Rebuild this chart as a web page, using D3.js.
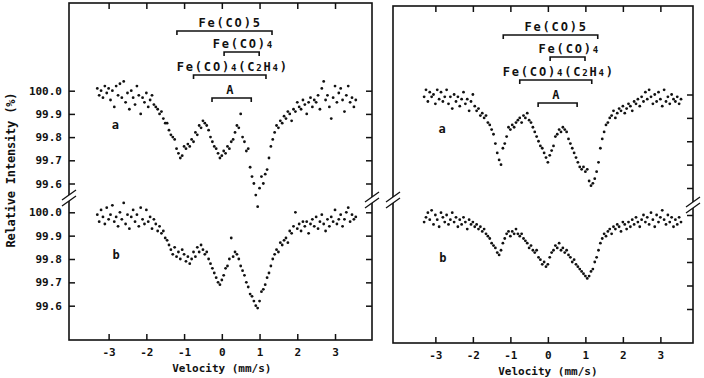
<!DOCTYPE html>
<html>
<head>
<meta charset="utf-8">
<title>Mossbauer spectra</title>
<script src="https://cdn.jsdelivr.net/npm/d3@7"></script>
<style>
  body { margin: 0; background: #fff; }
  text { font-family: "DejaVu Sans Mono", monospace; font-weight: bold; fill: #111; }
</style>
</head>
<body>
<div id="vis"></div>
<script>
// velocity channels (mm/s), shared by all four spectra
var velocity = [
  -3.30,-3.25,-3.20,-3.15,-3.10,-3.05,-3.00,-2.95,-2.90,-2.85,
  -2.80,-2.75,-2.70,-2.65,-2.60,-2.55,-2.50,-2.45,-2.40,-2.35,
  -2.30,-2.25,-2.20,-2.15,-2.10,-2.05,-2.00,-1.95,-1.90,-1.85,
  -1.80,-1.75,-1.70,-1.65,-1.60,-1.55,-1.50,-1.45,-1.40,-1.35,
  -1.30,-1.25,-1.20,-1.15,-1.10,-1.05,-1.00,-0.95,-0.90,-0.85,
  -0.80,-0.75,-0.70,-0.65,-0.60,-0.55,-0.50,-0.45,-0.40,-0.35,
  -0.30,-0.25,-0.20,-0.15,-0.10,-0.05,0.00,0.05,0.10,0.15,
  0.20,0.25,0.30,0.35,0.40,0.45,0.50,0.55,0.60,0.65,
  0.70,0.75,0.80,0.85,0.90,0.95,1.00,1.05,1.10,1.15,
  1.20,1.25,1.30,1.35,1.40,1.45,1.50,1.55,1.60,1.65,
  1.70,1.75,1.80,1.85,1.90,1.95,2.00,2.05,2.10,2.15,
  2.20,2.25,2.30,2.35,2.40,2.45,2.50,2.55,2.60,2.65,
  2.70,2.75,2.80,2.85,2.90,2.95,3.00,3.05,3.10,3.15,
  3.20,3.25,3.30,3.35,3.40,3.45,3.50,3.55
];

// relative intensity (%)
var leftA = [
  100.01,99.98,100.00,99.97,100.02,99.99,100.01,99.96,100.00,99.93,
  100.02,99.98,100.03,99.97,100.04,99.95,99.99,99.92,100.00,99.97,
  99.94,100.02,99.98,99.90,99.97,99.95,99.99,99.93,99.96,99.98,
  99.94,99.93,99.92,99.90,99.91,99.88,99.86,99.86,99.83,99.81,
  99.80,99.79,99.75,99.73,99.71,99.72,99.76,99.75,99.77,99.76,
  99.79,99.78,99.82,99.81,99.85,99.84,99.87,99.86,99.85,99.83,
  99.80,99.78,99.76,99.75,99.73,99.71,99.72,99.74,99.73,99.76,
  99.75,99.78,99.79,99.82,99.85,99.84,99.90,99.80,99.78,99.74,
  99.75,99.67,99.63,99.60,99.55,99.50,99.58,99.63,99.60,99.64,
  99.66,99.71,99.76,99.79,99.82,99.85,99.84,99.87,99.86,99.89,
  99.88,99.91,99.90,99.87,99.92,99.91,99.95,99.93,99.92,99.96,
  99.94,99.90,99.95,99.97,99.93,99.96,99.95,99.98,99.92,100.01,
  100.04,99.96,99.98,99.93,99.88,99.97,100.02,99.95,99.99,100.01,
  99.96,99.91,99.98,100.02,99.95,99.97,99.93,99.96
];
var leftB = [
  99.99,99.96,100.01,99.98,99.95,100.02,99.97,99.99,100.03,99.96,
  99.98,99.94,100.00,99.97,100.04,99.95,99.99,99.93,99.98,100.01,
  99.96,99.99,99.94,100.02,99.97,99.95,100.01,99.96,99.98,99.93,
  99.97,99.95,99.92,99.94,99.91,99.92,99.89,99.88,99.86,99.84,
  99.82,99.85,99.81,99.83,99.80,99.84,99.82,99.79,99.81,99.78,
  99.80,99.83,99.81,99.85,99.83,99.86,99.84,99.82,99.83,99.80,
  99.78,99.76,99.74,99.72,99.70,99.69,99.71,99.73,99.76,99.77,
  99.80,99.89,99.81,99.83,99.82,99.80,99.77,99.75,99.73,99.70,
  99.68,99.65,99.64,99.62,99.60,99.59,99.62,99.66,99.67,99.69,
  99.72,99.74,99.77,99.80,99.82,99.84,99.83,99.87,99.86,99.88,
  99.89,99.87,99.92,99.91,99.94,100.00,99.93,99.95,99.92,99.96,
  99.94,99.96,99.91,99.95,99.97,99.94,99.98,99.93,99.96,99.99,
  99.95,99.92,99.97,99.94,99.98,99.96,100.01,99.95,99.97,99.99,
  99.94,99.97,100.00,100.02,99.96,99.99,99.97,99.98
];
var rightA = [
  99.99,100.02,99.97,100.01,99.99,100.00,99.96,100.02,99.98,100.01,
  99.97,99.99,100.02,99.96,99.99,99.94,100.00,99.97,99.99,99.95,
  99.98,100.01,99.96,99.98,99.93,99.97,100.00,99.95,99.93,99.94,
  99.91,99.92,99.90,99.91,99.88,99.87,99.85,99.83,99.79,99.75,
  99.72,99.70,99.77,99.79,99.82,99.86,99.85,99.87,99.86,99.88,
  99.89,99.90,99.88,99.91,99.90,99.92,99.89,99.88,99.86,99.84,
  99.82,99.80,99.78,99.77,99.75,99.73,99.71,99.74,99.76,99.78,
  99.82,99.83,99.85,99.84,99.86,99.85,99.84,99.81,99.79,99.77,
  99.75,99.73,99.71,99.69,99.68,99.69,99.67,99.68,99.63,99.61,
  99.62,99.64,99.67,99.71,99.77,99.81,99.84,99.87,99.88,99.90,
  99.91,99.93,99.90,99.92,99.94,99.93,99.95,99.92,99.94,99.96,
  99.95,99.93,99.97,99.96,99.98,99.95,99.99,99.97,100.01,99.98,
  100.02,99.99,99.96,100.00,99.97,100.01,99.98,99.95,100.02,99.97,
  99.99,99.96,100.00,99.98,99.97,99.99,99.96,99.98
];
var rightB = [
  99.97,99.99,100.01,99.98,100.02,99.96,100.00,99.98,99.95,100.01,
  99.99,99.97,100.00,99.96,99.98,100.01,99.97,99.99,99.95,99.98,
  99.96,99.99,99.97,99.94,99.98,99.96,99.97,99.95,99.96,99.94,
  99.95,99.93,99.94,99.92,99.91,99.90,99.88,99.87,99.86,99.84,
  99.83,99.85,99.88,99.90,99.92,99.93,99.91,99.93,99.92,99.94,
  99.92,99.91,99.92,99.90,99.89,99.88,99.86,99.87,99.85,99.84,
  99.85,99.82,99.81,99.79,99.80,99.78,99.79,99.82,99.84,99.85,
  99.87,99.86,99.88,99.85,99.86,99.84,99.85,99.83,99.82,99.80,
  99.81,99.79,99.78,99.77,99.76,99.75,99.74,99.73,99.74,99.76,
  99.77,99.80,99.82,99.85,99.88,99.90,99.92,99.91,99.93,99.94,
  99.92,99.95,99.94,99.96,99.95,99.93,99.97,99.96,99.94,99.97,
  99.95,99.98,99.96,99.99,99.97,99.95,99.98,100.00,99.97,99.99,
  99.96,100.01,99.98,99.95,100.00,99.97,99.99,100.02,99.98,99.96,
  100.00,99.97,99.99,99.95,99.98,99.96,99.99,99.97
];

var xTicks = [-3, -2, -1, 0, 1, 2, 3];
var yTicks = [100.0, 99.9, 99.8, 99.7, 99.6];

// species markers: velocity range of each doublet
var species = [
  { name: ["Fe(CO)", "5"], sub: [false, false], lo: -1.19, hi: 1.33, mid: 0.22 },
  { name: ["Fe(CO)", "4"], sub: [false, true], lo: 0.06, hi: 0.99, mid: 0.57 },
  { name: ["Fe(CO)", "4", "(C", "2", "H", "4", ")"], sub: [false, true, false, true, false, true, false], lo: -0.75, hi: 1.17, mid: 0.29 },
  { name: ["A"], sub: [false], lo: -0.26, hi: 0.78, mid: 0.24 }
];

var svg = d3.select("#vis").append("svg")
  .attr("width", 704)
  .attr("height", 378);

var panels = [
  { x0: 69, x1: 372, y0: 3, y1: 340, dom: [-4.05, 3.98], ya: [183.5, 90.7], yb: [305.7, 212.3],
    data: [leftA, leftB], rows: [31, 52, 75, 98], leftAxis: true, brk: [198, 200], titleY: 372 },
  { x0: 393, x1: 693, y0: 6, y1: 343, dom: [-4.13, 3.87], ya: [188, 94.5], yb: [309, 215],
    data: [rightA, rightB], rows: [35, 57, 80, 103], leftAxis: false, brk: [200, 205], titleY: 375 }
];

panels.forEach(function (p) {
  var x = d3.scaleLinear().domain(p.dom).range([p.x0, p.x1]);
  var ys = [
    d3.scaleLinear().domain([99.6, 100]).range(p.ya),
    d3.scaleLinear().domain([99.6, 100]).range(p.yb)
  ];
  var g = svg.append("g");

  g.append("rect")
    .attr("x", p.x0).attr("y", p.y0)
    .attr("width", p.x1 - p.x0).attr("height", p.y1 - p.y0)
    .attr("fill", "none").attr("stroke", "#111").attr("stroke-width", 1.6);

  var bottom = g.append("g").attr("transform", "translate(0," + p.y1 + ")")
    .call(d3.axisBottom(x).tickValues(xTicks).tickSize(-6).tickPadding(8)
      .tickFormat(function (d) { return String(d); }));
  var top = g.append("g").attr("transform", "translate(0," + p.y0 + ")")
    .call(d3.axisTop(x).tickValues(xTicks).tickSize(-6).tickFormat(""));

  ys.forEach(function (y) {
    if (p.leftAxis) {
      g.append("g").attr("transform", "translate(" + p.x0 + ",0)")
        .call(d3.axisLeft(y).tickValues(yTicks).tickSize(-6).tickPadding(7)
          .tickFormat(d3.format(".1f")));
    }
    g.append("g").attr("transform", "translate(" + p.x1 + ",0)")
      .call(d3.axisRight(y).tickValues(yTicks).tickSize(-6).tickFormat(""));
  });

  g.selectAll(".domain").remove();
  g.selectAll(".tick line").attr("stroke", "#111").attr("stroke-width", 1.5);
  g.selectAll(".tick text").attr("font-size", 11).attr("fill", "#111")
    .attr("font-family", "DejaVu Sans Mono").attr("font-weight", "bold");

  // spectra a and b
  p.data.forEach(function (series, k) {
    g.append("g").selectAll("circle").data(series).enter()
      .append("circle")
      .attr("cx", function (d, i) { return x(velocity[i]); })
      .attr("cy", function (d) { return ys[k](d); })
      .attr("r", 1.4)
      .attr("fill", "#111");
  });

  g.append("text").attr("x", x(-2.92)).attr("y", (p.ya[0] + p.ya[1]) / 2 - 8)
    .attr("font-size", 12).text("a");
  g.append("text").attr("x", x(-2.9)).attr("y", (p.yb[0] + p.yb[1]) / 2)
    .attr("font-size", 12).text("b");

  // species brackets
  species.forEach(function (s, i) {
    var ry = p.rows[i];
    g.append("path")
      .attr("d", "M" + x(s.lo) + "," + (ry + 4) + "V" + ry + "H" + x(s.hi) + "V" + (ry + 4))
      .attr("fill", "none").attr("stroke", "#111").attr("stroke-width", 1.6);
    var t = g.append("text").attr("x", x(s.mid)).attr("y", ry - 4)
      .attr("text-anchor", "middle").attr("font-size", 12).attr("letter-spacing", 1.8);
    s.name.forEach(function (part, j) {
      t.append("tspan").attr("font-size", s.sub[j] ? 9 : 12).text(part);
    });
  });

  // axis breaks
  [[p.x0, p.brk[0]], [p.x1, p.brk[1]]].forEach(function (b) {
    g.append("rect").attr("x", b[0] - 2).attr("y", b[1] - 3).attr("width", 4).attr("height", 6)
      .attr("fill", "#fff");
    [-3, 3].forEach(function (o) {
      g.append("line")
        .attr("x1", b[0] - 7).attr("y1", b[1] + o + 5)
        .attr("x2", b[0] + 7).attr("y2", b[1] + o - 5)
        .attr("stroke", "#111").attr("stroke-width", 1.3);
    });
  });

  g.append("text").attr("x", (x(-3) + x(3)) / 2).attr("y", p.titleY)
    .attr("text-anchor", "middle").attr("font-size", 11).text("Velocity (mm/s)");
});

svg.append("text")
  .attr("transform", "translate(15,170) rotate(-90)")
  .attr("text-anchor", "middle").attr("font-size", 12)
  .attr("textLength", 155).attr("lengthAdjust", "spacing")
  .text("Relative Intensity (%)");
</script>
</body>
</html>
